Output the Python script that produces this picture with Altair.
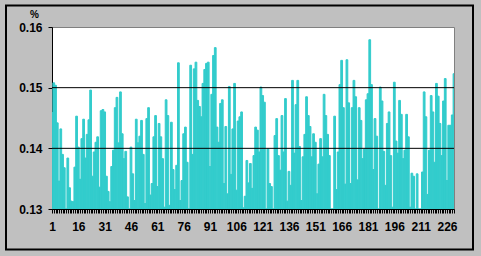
import altair as alt
import pandas as pd

# Bar values (percent share), in order 1..230
seg1 = [0.1459, 0.1508, 0.1504, 0.1442, 0.1346, 0.1432, 0.1390, 0.1368, 0.1300, 0.1384,
        0.1335, 0.1313, 0.1312, 0.1369, 0.1453, 0.1402, 0.1349, 0.1416, 0.1448, 0.1384,
        0.1423, 0.1447, 0.1496, 0.1354, 0.1394, 0.1410, 0.1419, 0.1336, 0.1462, 0.1464]
seg2 = [0.1460, 0.1354, 0.1329, 0.1312, 0.1370, 0.1397, 0.1467, 0.1484, 0.1409, 0.1493,
        0.1424, 0.1383, 0.1395, 0.1320, 0.1300, 0.1402, 0.1358, 0.1314, 0.1448, 0.1409,
        0.1420, 0.1446, 0.1390, 0.1309, 0.1449, 0.1467, 0.1323, 0.1342, 0.1419, 0.1454]
seg3 = [0.1337, 0.1441, 0.1419, 0.1383, 0.1303, 0.1480, 0.1454, 0.1306, 0.1443, 0.1365,
        0.1332, 0.1372, 0.1541, 0.1314, 0.1347, 0.1424, 0.1435, 0.1377, 0.1300, 0.1537,
        0.1390, 0.1531, 0.1542, 0.1479, 0.1469, 0.1452, 0.1507, 0.1530, 0.1540, 0.1542]
seg4 = [0.1370, 0.1489, 0.1553, 0.1566, 0.1435, 0.1410, 0.1474, 0.1480, 0.1342, 0.1436,
        0.1325, 0.1502, 0.1357, 0.1432, 0.1507, 0.1331, 0.1445, 0.1452, 0.1460, 0.1302,
        0.1321, 0.1380, 0.1343, 0.1375, 0.1334, 0.1388, 0.1435, 0.1430, 0.1394, 0.1501, 0.1487]
seg5 = [0.1476, 0.1300, 0.1399, 0.1342, 0.1337, 0.1300, 0.1421, 0.1449, 0.1388, 0.1364,
        0.1454, 0.1394, 0.1482, 0.1313, 0.1362, 0.1339, 0.1512, 0.1392, 0.1472, 0.1512,
        0.1403, 0.1314, 0.1386, 0.1423, 0.1485, 0.1454, 0.1436, 0.1386, 0.1424, 0.1410, 0.1325]
seg6 = [0.1374, 0.1416, 0.1386, 0.1489, 0.1454, 0.1423, 0.1388, 0.1300, 0.1300, 0.1453,
        0.1332, 0.1394, 0.1505, 0.1545, 0.1467, 0.1341, 0.1546, 0.1475, 0.1342,
        0.1467, 0.1512, 0.1485, 0.1348, 0.1467, 0.1446, 0.1383, 0.1399, 0.1480, 0.1490, 0.1579]
seg7 = [0.1505, 0.1365, 0.1449, 0.1420, 0.1300, 0.1501, 0.1478, 0.1395, 0.1339, 0.1441,
        0.1460, 0.1388, 0.1303, 0.1509, 0.1412, 0.1392, 0.1479, 0.1456, 0.1383, 0.1397,
        0.1456, 0.1419, 0.1303, 0.1359, 0.1354, 0.1300]
seg8 = [0.1358, 0.1300, 0.1300, 0.1361, 0.1493, 0.1452, 0.1324, 0.1397, 0.1487, 0.1460,
        0.1377, 0.1507, 0.1486, 0.1441, 0.1388, 0.1478, 0.1515, 0.1347, 0.1438, 0.1438,
        0.1455, 0.1523]

values = seg1 + seg2 + seg3 + seg4 + seg5 + seg6 + seg7 + seg8
categories = list(range(1, len(values) + 1))
x_labels = [1, 16, 31, 46, 61, 76, 91, 106, 121, 136, 151, 166, 181, 196, 211, 226]
y_ticks = [0.13, 0.14, 0.15, 0.16]
grid_lines = [0.14, 0.15]

df = pd.DataFrame({"n": categories, "v": values})
grid_df = pd.DataFrame({"v": grid_lines})
frame_df = pd.DataFrame({"k": [0]})

W, H = 402, 182
FONT = "Liberation Sans"
BAR = "#33CCCC"
n_cat = len(categories)
bar_w = W / (n_cat - 1)

yscale = alt.Scale(domain=[0.13, 0.16], zero=False, nice=False, clamp=True)
yaxis = alt.Axis(values=y_ticks, format=".2f", grid=False,
                 labelFont=FONT, labelFontSize=12, labelFontWeight="bold",
                 labelColor="black", labelPadding=6,
                 tickColor="black", tickSize=4, tickWidth=1,
                 domainColor="black", domainWidth=1,
                 title="%", titleAngle=0, titleX=-18, titleY=-10,
                 titleAlign="center", titleBaseline="alphabetic",
                 titleFont=FONT, titleFontSize=10, titleFontWeight="bold",
                 titleColor="black")

label_test = " || ".join(f"datum.value == {v}" for v in x_labels)

bars = alt.Chart(df).mark_bar(color=BAR, stroke=BAR, strokeWidth=1,
                              width=bar_w, clip=True).encode(
    x=alt.X("n:Q",
            scale=alt.Scale(domain=[1, n_cat], nice=False, zero=False, padding=0),
            axis=alt.Axis(values=categories, labelExpr=f"({label_test}) ? datum.label : ''",
                          format="d", labelAngle=0, labelOverlap=False, labelFlush=False,
                          labelBound=False, title=None,
                          labelFont=FONT, labelFontSize=12, labelFontWeight="bold",
                          labelColor="black", labelPadding=8,
                          tickColor="black", tickSize=4, tickWidth=1,
                          domainColor="black", domainWidth=1, grid=False)),
    y=alt.Y("v:Q", scale=yscale, axis=yaxis),
    y2=alt.datum(0.13),
)

rules = alt.Chart(grid_df).mark_rule(color="black", strokeWidth=1).encode(
    y=alt.Y("v:Q", scale=yscale, axis=yaxis)
)

frame = alt.Chart(frame_df).mark_rect(fillOpacity=0, stroke="black", strokeWidth=2).encode(
    x=alt.value(-46), x2=alt.value(421), y=alt.value(-21.5), y2=alt.value(222.5)
)

chart = alt.layer(bars, rules, frame).properties(
    width=W, height=H,
    autosize=alt.AutoSizeParams(type="none"),
    padding={"left": 52, "top": 27, "right": 27, "bottom": 47},
    background="#C0C0C0",
).configure_view(
    fill="white", stroke="#808080", strokeWidth=1
)

chart.save("out.html", embed_options={"renderer": "svg", "actions": False})
